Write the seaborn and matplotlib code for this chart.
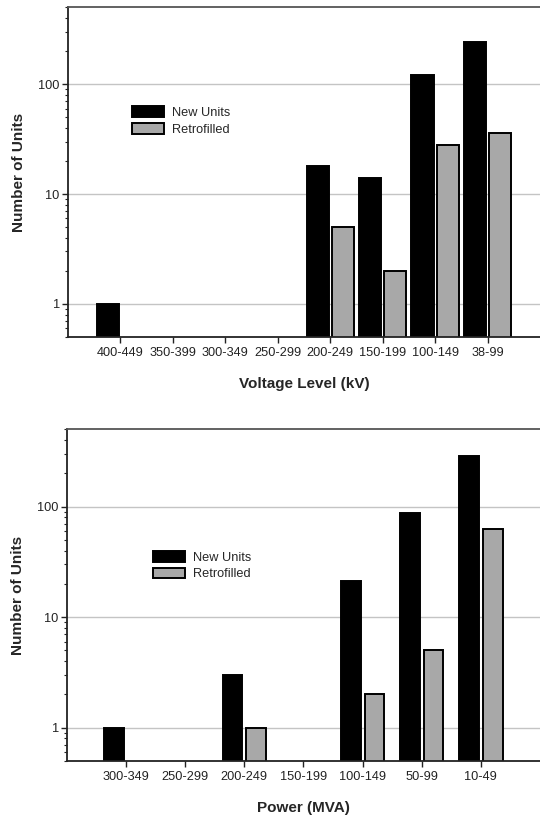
import numpy as np
import pandas as pd
import matplotlib
matplotlib.use("Agg")
import matplotlib.pyplot as plt
import seaborn as sns
from matplotlib.ticker import LogLocator, FixedLocator, FixedFormatter, NullFormatter

# ---- data ----
volt_cats = ['400-449', '350-399', '300-349', '250-299', '200-249', '150-199', '100-149', '38-99']
volt_new = [1, np.nan, np.nan, np.nan, 18, 14, 122, 240]
volt_retro = [np.nan, np.nan, np.nan, np.nan, 5, 2, 28, 36]

power_cats = ['300-349', '250-299', '200-249', '150-199', '100-149', '50-99', '10-49']
power_new = [1, np.nan, 3, np.nan, 21, 88, 285]
power_retro = [np.nan, np.nan, 1, np.nan, 2, 5, 63]

series_names = ['New Units', 'Retrofilled']
y_ticks = [1, 10, 100]
y_ticklabels = ['1', '10', '100']


def long_df(cats, new, retro):
    rows = []
    for c, n, r in zip(cats, new, retro):
        if not np.isnan(n):
            rows.append((c, series_names[0], n))
        if not np.isnan(r):
            rows.append((c, series_names[1], r))
    return pd.DataFrame(rows, columns=['cat', 'series', 'value'])


sns.set_style('white')
plt.rcParams['font.family'] = ['Liberation Sans', 'DejaVu Sans']

fig = plt.figure(figsize=(5.4, 8.16), dpi=100)
ax1 = fig.add_axes([0.126, 0.587, 0.874, 0.404])
ax2 = fig.add_axes([0.124, 0.0674, 0.876, 0.4066])

palette = {'New Units': '#000000', 'Retrofilled': '#a8a8a8'}


def draw(ax, cats, new, retro, width, gap, xlabel, leg_anchor):
    df = long_df(cats, new, retro)
    sns.barplot(data=df, x='cat', y='value', hue='series', order=cats,
                hue_order=series_names, palette=palette, edgecolor='black',
                linewidth=1.4, width=width, gap=gap, errorbar=None, ax=ax,
                saturation=1)
    ax.set_yscale('log')
    ax.set_ylim(0.5, 500)
    ax.set_xlim(-1, len(cats))
    ax.yaxis.set_major_locator(FixedLocator(y_ticks))
    ax.yaxis.set_major_formatter(FixedFormatter(y_ticklabels))
    ax.yaxis.set_minor_locator(LogLocator(base=10, subs=np.arange(2, 10)))
    ax.yaxis.set_minor_formatter(NullFormatter())
    ax.grid(axis='y', which='major', color='#c4c4c4', linewidth=1.0)
    ax.set_axisbelow(True)
    for s in ['left', 'bottom', 'top']:
        ax.spines[s].set_color('#222222')
        ax.spines[s].set_linewidth(1.3)
    ax.spines['top'].set_color('#555555')
    ax.spines['right'].set_visible(False)
    ax.tick_params(axis='x', which='major', direction='out', length=4, width=1,
                   labelsize=9.2, pad=3, colors='#222222')
    ax.tick_params(axis='y', which='major', direction='out', length=4, width=1,
                   labelsize=9.2, pad=2, left=True, colors='#222222')
    ax.tick_params(axis='y', which='minor', direction='out', length=2, width=0.8,
                   left=True, colors='#222222')
    ax.tick_params(axis='x', bottom=True)
    ax.set_xlabel(xlabel, fontsize=11, fontweight='bold', labelpad=13)
    ax.set_ylabel('Number of Units', fontsize=11, fontweight='bold', labelpad=9)
    handles, labels = ax.get_legend_handles_labels()
    ax.legend(handles, labels, loc='upper left', bbox_to_anchor=leg_anchor,
              frameon=False, fontsize=9.2, handlelength=2.5, handleheight=0.9,
              labelspacing=0.3, handletextpad=0.6, borderaxespad=0)


draw(ax1, volt_cats, volt_new, volt_retro, 0.96, 0.12, 'Voltage Level (kV)', (0.125, 0.715))
draw(ax2, power_cats, power_new, power_retro, 0.8, 0.17, 'Power (MVA)', (0.171, 0.648))

fig.savefig('out.png', dpi=100)
